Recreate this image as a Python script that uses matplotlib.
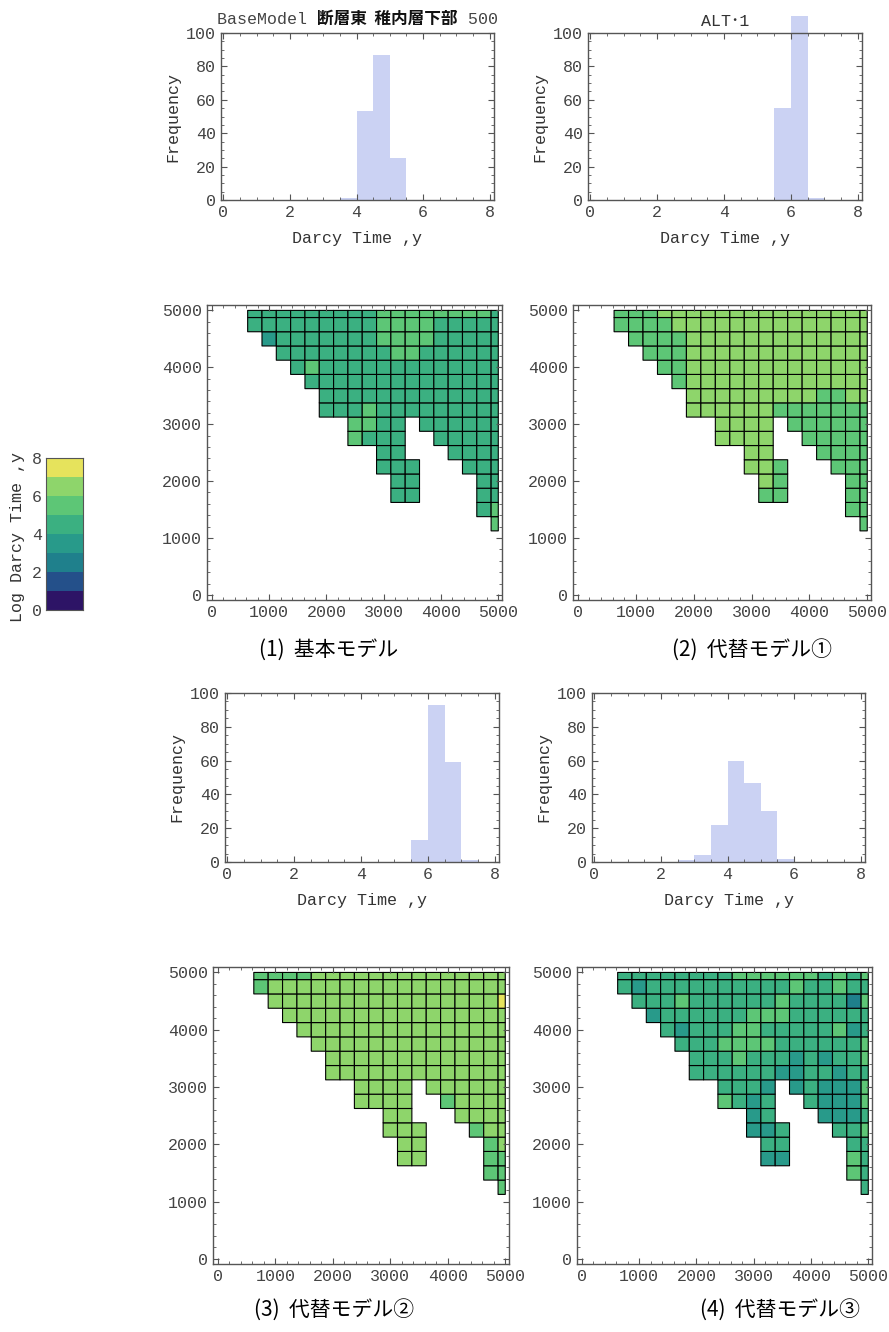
import numpy as np
import matplotlib
matplotlib.use('Agg')
from matplotlib import pyplot as plt
from matplotlib.colors import ListedColormap, BoundaryNorm
from matplotlib.ticker import MultipleLocator

plt.rcParams['font.family'] = ['Liberation Mono', 'Noto Sans CJK JP']

# histogram: bin left edges (0.5 wide) and frequencies
bin_left = np.arange(0, 8, 0.5)
base_counts = [0, 0, 0, 0, 0, 0, 0, 1, 53, 87, 25, 0, 0, 0, 0, 0]
alt1_counts = [0, 0, 0, 0, 0, 0, 0, 0, 0, 0, 0, 55, 110, 1, 0, 0]
alt2_counts = [0, 0, 0, 0, 0, 0, 0, 0, 0, 0, 0, 13, 93, 59, 1, 0]
alt3_counts = [0, 0, 0, 0, 0, 1, 4, 22, 60, 47, 30, 2, 0, 0, 0, 0]

# map grid: cell centres (250 m spacing), rows listed from y=5000 down to y=1250
cell_x = list(range(750, 5001, 250))
cell_y = list(range(5000, 1249, -250))
# digit = log darcy time class (floor), '.' = no cell
base_rows = [
    "4" * 9 + "5" * 8 + "4",
    "4" * 9 + "5" * 4 + "4" * 5,
    ".3" + "4" * 7 + "5" * 4 + "4" * 5,
    ".." + "4" * 8 + "55" + "4" * 6,
    "..." + "45" + "4" * 13,
    "...." + "4" * 14,
    "....." + "4" * 13,
    "....." + "444" + "5" + "4" * 9,
    "......." + "55" + "44" + "." + "4" * 6,
    "......." + "5" + "444" + ".." + "4" * 5,
    "........." + "44" + "..." + "4444",
    "........." + "444" + "..." + "444",
    ".........." + "44" + "...." + "44",
    ".........." + "44" + "...." + "44",
    "." * 16 + "45",
    "." * 17 + "5",
]
alt1_rows = [
    "555" + "6" * 15,
    "5555" + "6" * 14,
    "." + "5555" + "6" * 13,
    ".." + "555" + "6" * 13,
    "..." + "55" + "6" * 13,
    "...." + "5" + "6" * 13,
    "....." + "6" * 9 + "55" + "66",
    "....." + "6" * 6 + "5" * 7,
    "......." + "6666" + "." + "5" * 6,
    "......." + "6666" + ".." + "5" * 5,
    "........." + "66" + "..." + "5555",
    "........." + "665" + "..." + "555",
    ".........." + "65" + "...." + "55",
    ".........." + "55" + "...." + "55",
    "." * 16 + "55",
    "." * 17 + "5",
]
alt2_rows = [
    "5555" + "6" * 14,
    "5" + "6" * 17,
    "." + "6" * 16 + "7",
    ".." + "6" * 16,
    "..." + "6" * 15,
    "...." + "6" * 14,
    "....." + "6" * 13,
    "....." + "6" * 13,
    "......." + "6666" + "." + "6" * 6,
    "......." + "6666" + ".." + "5" + "6666",
    "........." + "66" + "..." + "6666",
    "........." + "666" + "..." + "566",
    ".........." + "66" + "...." + "56",
    ".........." + "66" + "...." + "55",
    "." * 16 + "55",
    "." * 17 + "5",
]
alt3_rows = [
    "4" * 8 + "5" * 6 + "4545",
    "43" + "4" * 10 + "5" + "44" + "5" + "44",
    "." + "444" + "5" + "4" * 6 + "5" + "4444" + "25",
    ".." + "3" + "4" * 6 + "555" + "4" * 6,
    "..." + "43" + "444" + "55" + "4" * 5 + "534",
    "...." + "444" + "5555" + "4" * 6 + "5",
    "....." + "444" + "5" + "444" + "3" + "4" + "3" + "44" + "5",
    "....." + "4" * 6 + "33" + "44" + "3" + "44",
    "......." + "444" + "3" + "." + "34" + "333" + "5",
    "......." + "5434" + ".." + "4" + "333" + "5",
    "........." + "34" + "..." + "333" + "4",
    "........." + "334" + "..." + "445",
    ".........." + "44" + "...." + "44",
    ".........." + "33" + "...." + "54",
    "." * 16 + "54",
    "." * 17 + "4",
]

class_colors = ['#2d1466', '#24508a', '#1f808c', '#289a8a',
                '#3bb081', '#5dc676', '#8ed56b', '#e6e35c']
cmap = ListedColormap(class_colors)
norm = BoundaryNorm(np.arange(0, 9), 8)

W, H = 889, 1332
fig = plt.figure(figsize=(W / 100, H / 100), dpi=100)


def px_axes(left, top, right, bottom):
    return fig.add_axes([left / W, 1 - bottom / H, (right - left) / W, (bottom - top) / H])


def style_frame(ax):
    for s in ax.spines.values():
        s.set_color('#555555')
        s.set_linewidth(1.0)
    ax.tick_params(which='both', direction='in', top=True, right=True,
                   colors='#555555', labelcolor='#444444', labelsize=12)
    ax.tick_params(which='major', length=4)
    ax.tick_params(which='minor', length=2)


def draw_hist(ax, counts):
    ax.bar(bin_left, counts, width=0.5, align='edge', color='#cbd2f3',
           linewidth=0, clip_on=False)
    ax.set_xlim(-0.07, 8.13)
    ax.set_ylim(0, 100)
    ax.xaxis.set_major_locator(MultipleLocator(2))
    ax.xaxis.set_minor_locator(MultipleLocator(0.5))
    ax.yaxis.set_major_locator(MultipleLocator(20))
    ax.yaxis.set_minor_locator(MultipleLocator(5))
    style_frame(ax)
    ax.set_xlabel('Darcy Time ,y', fontsize=12, color='#333333', labelpad=8)
    ax.set_ylabel('Frequency', fontsize=12, color='#333333', labelpad=4)


def draw_map(ax, rows):
    z = np.array([[np.nan if c == '.' else float(c) for c in r] for r in rows])
    xc = np.array(cell_x)
    yc = np.array(cell_y)[::-1]
    xe = np.clip(np.append(xc - 125, xc[-1] + 125), 0, 5000)
    ye = np.clip(np.append(yc - 125, yc[-1] + 125), 0, 5000)
    zm = np.ma.masked_invalid(z[::-1])
    ax.pcolor(xe, ye, zm, cmap=cmap, norm=norm, edgecolors='black', linewidth=0.8)
    ax.set_xlim(-85, 5065)
    ax.set_ylim(-90, 5095)
    ax.xaxis.set_major_locator(MultipleLocator(1000))
    ax.xaxis.set_minor_locator(MultipleLocator(200))
    ax.yaxis.set_major_locator(MultipleLocator(1000))
    ax.yaxis.set_minor_locator(MultipleLocator(200))
    style_frame(ax)


h1 = px_axes(221, 33, 494, 200)
draw_hist(h1, base_counts)
h2 = px_axes(588, 33, 862, 200)
draw_hist(h2, alt1_counts)
h2.set_title('ALT･1', fontsize=12, color='#333333', pad=5)

# mixed-font title for the base model
t1 = fig.text(217 / W, 1 - 19 / H, 'BaseModel ', fontsize=12, color='#444444', va='center')
t2 = h1.annotate('断層東  稚内層下部', xy=(1, 0.5), xycoords=t1, va='center',
                 fontsize=12, fontweight='bold', color='#111111',
                 family='Noto Sans CJK JP', annotation_clip=False)
h1.annotate(' 500', xy=(1, 0.5), xycoords=t2, va='center', fontsize=12,
            color='#444444', annotation_clip=False)

m1 = px_axes(207, 305, 502, 600)
draw_map(m1, base_rows)
m2 = px_axes(573, 305, 871, 600)
draw_map(m2, alt1_rows)

h3 = px_axes(225, 693, 499, 862)
draw_hist(h3, alt2_counts)
h4 = px_axes(592, 693, 865, 862)
draw_hist(h4, alt3_counts)

m3 = px_axes(213, 967, 509, 1264)
draw_map(m3, alt2_rows)
m4 = px_axes(577, 967, 872, 1264)
draw_map(m4, alt3_rows)

# colour legend
cb = px_axes(46, 458, 83, 610)
levels = np.arange(0, 9)
cb.pcolormesh([0, 1], levels, (levels[:-1] + 0.5).reshape(-1, 1), cmap=cmap, norm=norm)
cb.set_xlim(0, 1)
cb.set_ylim(0, 8)
cb.set_xticks([])
cb.set_yticks([0, 2, 4, 6, 8])
for s in cb.spines.values():
    s.set_color('#555555')
cb.tick_params(axis='y', length=0, labelsize=12, labelcolor='#444444', pad=3)
fig.text(18 / W, 1 - 537 / H, 'Log Darcy Time ,y', rotation=90, fontsize=12,
         color='#333333', ha='center', va='center')

cap = dict(ha='center', va='center', fontsize=15, family='Noto Sans CJK JP')
fig.text(329 / W, 1 - 650 / H, '(1)  基本モデル', **cap)
fig.text(752 / W, 1 - 650 / H, '(2)  代替モデル①', **cap)
fig.text(334 / W, 1 - 1310 / H, '(3)  代替モデル②', **cap)
fig.text(780 / W, 1 - 1310 / H, '(4)  代替モデル③', **cap)

fig.savefig('out.png', dpi=100)
